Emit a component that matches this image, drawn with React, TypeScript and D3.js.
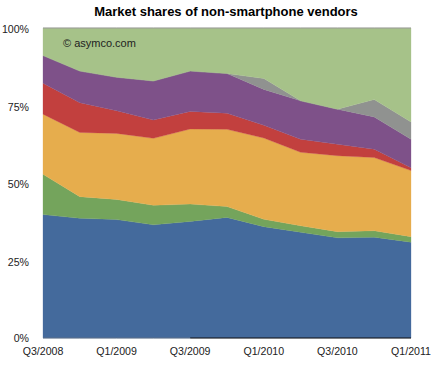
import React from "react";
import * as d3 from "d3";

const quarters = ["Q3/2008","Q4/2008","Q1/2009","Q2/2009","Q3/2009","Q4/2009","Q1/2010","Q2/2010","Q3/2010","Q4/2010","Q1/2011"];
const tickQuarters = ["Q3/2008","Q1/2009","Q3/2009","Q1/2010","Q3/2010","Q1/2011"];
const yTicks = [0, 25, 50, 75, 100];

const seriesNames = ["blue","green","orange","red","purple","gray","lightgreen"];
const blueVals = [39.8, 38.6, 38.2, 36.5, 37.6, 38.9, 35.9, 34.1, 32.3, 32.5, 30.9];
const greenVals = [13.0, 7.0, 6.5, 6.3, 5.6, 3.5, 2.4, 2.1, 2.0, 2.1, 1.8];
const orangeVals = [19.4, 20.7, 21.3, 21.6, 24.2, 24.9, 26.2, 23.7, 24.5, 23.6, 21.3];
const redVals = [10.0, 9.6, 7.3, 5.9, 5.7, 5.2, 4.1, 4.2, 3.7, 2.7, 0.9];
const purpleVals = [8.9, 10.2, 10.8, 12.6, 13.0, 12.8, 11.6, 12.4, 11.3, 10.4, 9.2];
const grayVals = [0, 0, 0, 0, 0, 0, 3.5, 0, 0, 5.6, 5.6];
const lightGreenVals = [8.9, 13.9, 15.9, 17.1, 13.9, 14.7, 16.3, 23.5, 26.2, 23.1, 30.3];

const colors: Record<string, string> = {
  blue: "#446a9c",
  green: "#74a45c",
  orange: "#e6ad4d",
  red: "#c2403e",
  purple: "#7e5189",
  gray: "#909290",
  lightgreen: "#a6c289",
};

const W = 436, H = 370;
const m = { left: 43, right: 25, top: 28, bottom: 32 };

export default function App() {
  const valueArrays = [blueVals, greenVals, orangeVals, redVals, purpleVals, grayVals, lightGreenVals];
  const table = quarters.map((q, i) => {
    const row: any = { q };
    seriesNames.forEach((s, k) => (row[s] = valueArrays[k][i]));
    return row;
  });
  const stacked = d3.stack().keys(seriesNames)(table as any);

  const x = d3.scalePoint<string>().domain(quarters).range([m.left, W - m.right]);
  const y = d3.scaleLinear().domain([0, 100]).range([H - m.bottom, m.top]);

  const area = d3
    .area<any>()
    .x((d) => x(d.data.q) as number)
    .y0((d) => y(d[0]))
    .y1((d) => y(d[1]));

  const lineAt = (v: number) =>
    d3.line<string>().x((q) => x(q) as number).y(() => y(v));

  const font = "'Liberation Sans', Arial, Helvetica, sans-serif";

  return (
    <svg width={W} height={H} style={{ position: "absolute", left: 0, top: 0, background: "#fff" }} fontFamily={font}>
      <text x={226} y={16} textAnchor="middle" fontSize={13} fontWeight="bold" fill="#000">
        Market shares of non-smartphone vendors
      </text>
      {stacked.map((s) => (
        <path key={s.key} d={area(s as any) || ""} fill={colors[s.key]} stroke={colors[s.key]} strokeWidth={0.3} />
      ))}
      <path d={lineAt(100)(quarters) || ""} stroke="#9a9a9a" strokeWidth={1} fill="none" />
      <path d={lineAt(0)(quarters.slice(0, 5)) || ""} stroke="#5c7088" strokeWidth={1} fill="none" />
      <path d={lineAt(0)(quarters.slice(4)) || ""} stroke="#111" strokeWidth={1.2} fill="none" />
      {yTicks.map((t) => (
        <text key={t} x={29} y={y(t) + (t === 0 ? 4 : 5)} textAnchor="end" fontSize={10.6} fill="#222">
          {t}%
        </text>
      ))}
      {tickQuarters.map((q) => (
        <text key={q} x={x(q) as number} y={355} textAnchor="middle" fontSize={10.6} fill="#222">
          {q}
        </text>
      ))}
      <text x={63} y={47} fontSize={11} fill="#222">
        © asymco.com
      </text>
    </svg>
  );
}
